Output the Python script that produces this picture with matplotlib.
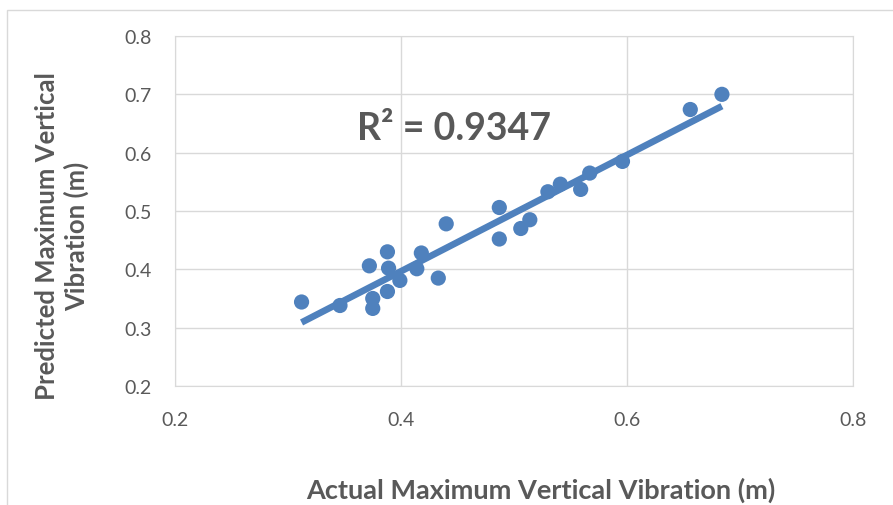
import numpy as np
import matplotlib
matplotlib.use("Agg")
import matplotlib.pyplot as plt
import matplotlib.patches as patches

# actual vs predicted maximum vertical vibration (m)
actual = [0.312, 0.346, 0.372, 0.375, 0.375, 0.388, 0.389, 0.388, 0.399, 0.414,
          0.418, 0.433, 0.440, 0.487, 0.487, 0.506, 0.514, 0.530, 0.541, 0.559,
          0.567, 0.596, 0.656, 0.684]
predicted = [0.344, 0.338, 0.406, 0.350, 0.333, 0.430, 0.402, 0.362, 0.381, 0.401,
             0.428, 0.385, 0.478, 0.506, 0.452, 0.470, 0.485, 0.533, 0.546, 0.537,
             0.565, 0.585, 0.674, 0.700]
r2_label = "R² = 0.9347"
ticks = [0.2, 0.4, 0.6, 0.8]
yticks = [0.2, 0.3, 0.4, 0.5, 0.6, 0.7, 0.8]

blue = "#4F81BD"
grey_txt = "#595959"
grid_c = "#D9D9D9"

plt.rcParams['font.family'] = ['Lato', 'DejaVu Sans']

fig = plt.figure(figsize=(8.93, 5.06), dpi=100)
# chart frame
fig.patches.append(patches.Rectangle((7 / 893, -0.05), 1.1, 1 - 11 / 506 + 0.05,
                                     transform=fig.transFigure, fill=False,
                                     edgecolor=grid_c, linewidth=1))

ax = fig.add_axes([175 / 893, (506 - 387) / 506, 678 / 893, 350 / 506])

# linear trendline over the data range
slope, icpt = np.polyfit(actual, predicted, 1)
xs = np.array([min(actual), max(actual)])
ax.plot(xs, slope * xs + icpt, color=blue, linewidth=4.8, solid_capstyle="butt", zorder=3)
ax.scatter(actual, predicted, s=120, color=blue, edgecolors="none", zorder=4)

ax.set_xlim(0.2, 0.8)
ax.set_ylim(0.2, 0.8)
ax.set_xticks(ticks)
ax.set_xticklabels([f"{t:.1f}" for t in ticks])
ax.set_yticks(yticks)
ax.set_yticklabels([f"{t:.1f}" for t in yticks])
ax.tick_params(length=0, labelsize=14, colors=grey_txt)
ax.tick_params(axis="x", pad=18)
ax.tick_params(axis="y", pad=17)
ax.grid(True, color=grid_c, linewidth=1)
ax.set_axisbelow(True)
for s in ax.spines.values():
    s.set_color(grid_c)

ax.text(0.361, 0.643, r2_label, fontsize=27, fontweight="bold", color=grey_txt,
        va="center", ha="left")

fig.text(541 / 893, 1 - 490 / 506, "Actual Maximum Vertical Vibration (m)",
         fontsize=19.5, fontweight="bold", color=grey_txt, ha="center", va="center")
fig.text(62 / 893, 1 - 236 / 506, "Predicted Maximum Vertical\nVibration (m)",
         fontsize=18.5, fontweight="bold", color=grey_txt, ha="center", va="center",
         rotation=90, linespacing=1.2)

fig.savefig("out.png", dpi=100)
